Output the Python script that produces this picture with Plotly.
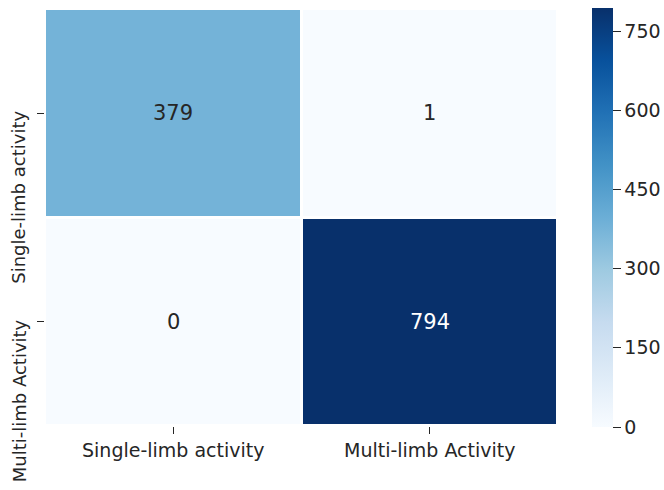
import plotly.graph_objects as go

labels = ["Single-limb activity", "Multi-limb Activity"]
counts = [[379, 1],
          [0, 794]]
cbar_ticks = [0, 150, 300, 450, 600, 750]

font_family = "DejaVu Sans"
tick_size = 19
row_label_size = 18
annot_size = 21
text_color = "#262626"
zmax = max(max(r) for r in counts)

margin = dict(l=45, r=106, t=9, b=64)
plot_w = 664 - margin["l"] - margin["r"]

fig = go.Figure(go.Heatmap(
    z=counts,
    x=labels,
    y=labels,
    colorscale="Blues",
    zmin=0,
    zmax=zmax,
    xgap=3,
    ygap=3,
    colorbar=dict(
        x=(592 - margin["l"]) / plot_w,
        xanchor="left",
        xpad=0,
        ypad=0,
        y=0.5,
        yanchor="middle",
        len=419,
        lenmode="pixels",
        thickness=21,
        outlinewidth=0,
        tickvals=cbar_ticks,
        ticks="outside",
        ticklen=8,
        tickcolor=text_color,
        tickfont=dict(family=font_family, size=tick_size, color=text_color),
    ),
))

# cell value labels, light text on dark cells
for i, row in enumerate(counts):
    for j, v in enumerate(row):
        fig.add_annotation(
            x=labels[j], y=labels[i], text=str(v), showarrow=False,
            font=dict(family=font_family, size=annot_size,
                      color="white" if v > zmax / 2 else text_color),
        )

# vertical row labels hanging below their tick marks
for lab in labels:
    fig.add_annotation(
        xref="paper", x=(19 - margin["l"]) / plot_w, xanchor="center",
        y=lab, yanchor="top", yshift=4,
        text=lab, textangle=-90, showarrow=False,
        font=dict(family=font_family, size=row_label_size, color=text_color),
    )

fig.update_layout(
    width=664,
    height=490,
    margin=dict(**margin, autoexpand=False),
    plot_bgcolor="white",
    paper_bgcolor="white",
    font=dict(family=font_family, size=tick_size, color=text_color),
)
fig.update_xaxes(
    range=[-0.5, len(labels) - 0.5],
    showgrid=False, zeroline=False, showline=False,
    ticks="outside", ticklen=7, tickcolor=text_color,
    tickfont=dict(family=font_family, size=tick_size, color=text_color),
)
fig.update_yaxes(
    range=[len(labels) - 0.5, -0.5],
    showgrid=False, zeroline=False, showline=False,
    ticks="outside", ticklen=7, tickcolor=text_color,
    showticklabels=False,
)

fig.write_html("out.html")
